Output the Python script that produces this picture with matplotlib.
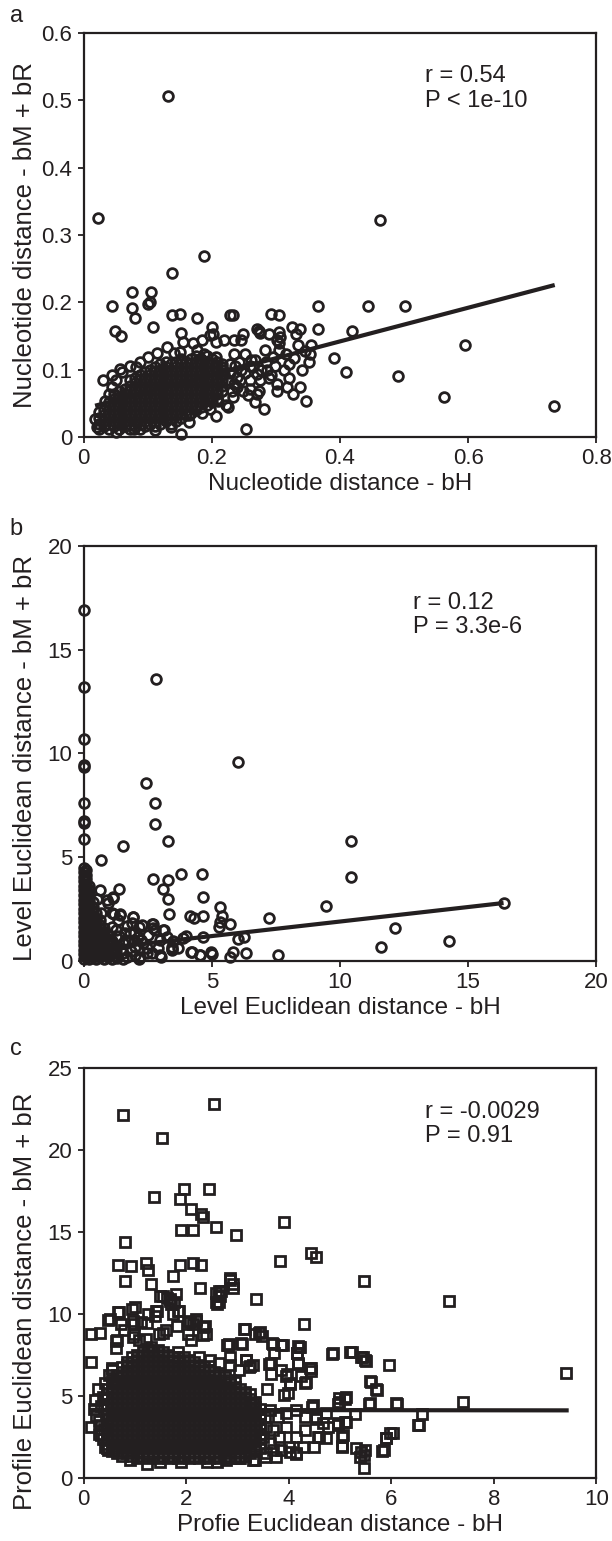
import matplotlib
matplotlib.use("Agg")
import matplotlib.pyplot as plt

plt.rcParams['font.family'] = ['Liberation Sans', 'DejaVu Sans']

INK = '#231f20'

# ---------------- panel a : nucleotide distance ----------------
# isolated / readable rings (x = bH, y = bM + bR)
a_outliers = [
    (0.023, 0.325), (0.132, 0.506), (0.463, 0.323), (0.188, 0.269), (0.138, 0.244),
    (0.075, 0.216), (0.106, 0.216), (0.045, 0.194), (0.075, 0.191), (0.080, 0.177),
    (0.100, 0.197), (0.103, 0.200), (0.138, 0.181), (0.150, 0.183), (0.177, 0.177),
    (0.228, 0.181), (0.233, 0.181), (0.293, 0.183), (0.305, 0.181), (0.366, 0.194),
    (0.443, 0.194), (0.502, 0.194), (0.049, 0.158), (0.059, 0.150), (0.108, 0.163),
    (0.152, 0.154), (0.200, 0.163), (0.202, 0.153), (0.271, 0.161), (0.276, 0.154),
    (0.305, 0.156), (0.301, 0.144), (0.325, 0.164), (0.337, 0.161), (0.365, 0.161),
    (0.419, 0.157), (0.391, 0.118), (0.410, 0.097), (0.490, 0.091), (0.595, 0.136),
    (0.562, 0.059), (0.734, 0.046), (0.347, 0.054), (0.254, 0.012), (0.152, 0.004),
    (0.206, 0.031), (0.281, 0.041), (0.268, 0.052), (0.164, 0.032), (0.115, 0.125),
    (0.030, 0.084), (0.045, 0.092), (0.060, 0.097), (0.018, 0.027),
]
# rings around the edge of the dense cloud
a_scatter = [
    (0.207, 0.141), (0.219, 0.144), (0.245, 0.144), (0.273, 0.158), (0.289, 0.153),
    (0.305, 0.139), (0.316, 0.124), (0.335, 0.136), (0.355, 0.137), (0.354, 0.124),
    (0.352, 0.111), (0.341, 0.099), (0.321, 0.087), (0.338, 0.074), (0.318, 0.074),
    (0.302, 0.079), (0.302, 0.069), (0.289, 0.087), (0.276, 0.084), (0.259, 0.084),
    (0.259, 0.072), (0.274, 0.069), (0.271, 0.064), (0.233, 0.059), (0.222, 0.047),
    (0.225, 0.045), (0.246, 0.099), (0.262, 0.114), (0.283, 0.129), (0.295, 0.119),
    (0.305, 0.129), (0.320, 0.109), (0.277, 0.099), (0.234, 0.124), (0.228, 0.109),
    (0.240, 0.089), (0.249, 0.069), (0.298, 0.106), (0.326, 0.064),
    (0.141, 0.125), (0.151, 0.126), (0.170, 0.139), (0.185, 0.144), (0.198, 0.151),
    (0.155, 0.141), (0.130, 0.134), (0.177, 0.129), (0.188, 0.124), (0.207, 0.119),
    (0.100, 0.119), (0.088, 0.111), (0.073, 0.106), (0.082, 0.104), (0.057, 0.101),
    (0.021, 0.015), (0.033, 0.054), (0.024, 0.037), (0.051, 0.007), (0.079, 0.012),
    (0.112, 0.010), (0.137, 0.015), (0.164, 0.022), (0.185, 0.035), (0.198, 0.042),
    (0.210, 0.054), (0.045, 0.074), (0.039, 0.064), (0.051, 0.084),
    (0.216, 0.104), (0.219, 0.094), (0.225, 0.084), (0.216, 0.069), (0.234, 0.079),
    (0.243, 0.111), (0.252, 0.124), (0.265, 0.104), (0.271, 0.094), (0.286, 0.099),
    (0.249, 0.153), (0.234, 0.144), (0.307, 0.149), (0.332, 0.153),
    (0.228, 0.095), (0.236, 0.105), (0.244, 0.085), (0.252, 0.095), (0.260, 0.105),
    (0.268, 0.115), (0.232, 0.068), (0.240, 0.075), (0.256, 0.062), (0.285, 0.112),
    (0.292, 0.092), (0.312, 0.099), (0.328, 0.118), (0.345, 0.128),
]
# solid black core, estimated column by column (x, [y ...])
a_core = [
    (0.024, [0.012, 0.020, 0.028]),
    (0.032, [0.016, 0.024, 0.032, 0.040]),
    (0.040, [0.012, 0.020, 0.028, 0.036, 0.044, 0.052]),
    (0.048, [0.016, 0.024, 0.032, 0.040, 0.048, 0.056, 0.064]),
    (0.056, [0.012, 0.020, 0.028, 0.036, 0.044, 0.052, 0.060, 0.068]),
    (0.064, [0.016, 0.024, 0.032, 0.040, 0.048, 0.056, 0.064, 0.072]),
    (0.072, [0.012, 0.020, 0.028, 0.036, 0.044, 0.052, 0.060, 0.068, 0.076, 0.084]),
    (0.080, [0.016, 0.024, 0.032, 0.040, 0.048, 0.056, 0.064, 0.072, 0.080, 0.088]),
    (0.088, [0.012, 0.020, 0.028, 0.036, 0.044, 0.052, 0.060, 0.068, 0.076, 0.084, 0.092]),
    (0.096, [0.016, 0.024, 0.032, 0.040, 0.048, 0.056, 0.064, 0.072, 0.080, 0.088, 0.096]),
    (0.104, [0.020, 0.028, 0.036, 0.044, 0.052, 0.060, 0.068, 0.076, 0.084, 0.092, 0.100]),
    (0.112, [0.016, 0.024, 0.032, 0.040, 0.048, 0.056, 0.064, 0.072, 0.080, 0.088, 0.096, 0.104]),
    (0.120, [0.020, 0.028, 0.036, 0.044, 0.052, 0.060, 0.068, 0.076, 0.084, 0.092, 0.100, 0.108]),
    (0.128, [0.024, 0.032, 0.040, 0.048, 0.056, 0.064, 0.072, 0.080, 0.088, 0.096, 0.104, 0.112]),
    (0.136, [0.020, 0.028, 0.036, 0.044, 0.052, 0.060, 0.068, 0.076, 0.084, 0.092, 0.100, 0.108]),
    (0.144, [0.024, 0.032, 0.040, 0.048, 0.056, 0.064, 0.072, 0.080, 0.088, 0.096, 0.104, 0.112]),
    (0.152, [0.028, 0.036, 0.044, 0.052, 0.060, 0.068, 0.076, 0.084, 0.092, 0.100, 0.108, 0.116]),
    (0.160, [0.032, 0.040, 0.048, 0.056, 0.064, 0.072, 0.080, 0.088, 0.096, 0.104, 0.112]),
    (0.168, [0.036, 0.044, 0.052, 0.060, 0.068, 0.076, 0.084, 0.092, 0.100, 0.108, 0.116]),
    (0.176, [0.040, 0.048, 0.056, 0.064, 0.072, 0.080, 0.088, 0.096, 0.104, 0.112, 0.120]),
    (0.184, [0.044, 0.052, 0.060, 0.068, 0.076, 0.084, 0.092, 0.100, 0.108, 0.116]),
    (0.192, [0.048, 0.056, 0.064, 0.072, 0.080, 0.088, 0.096, 0.104, 0.112, 0.120]),
    (0.200, [0.052, 0.060, 0.068, 0.076, 0.084, 0.092, 0.100, 0.108, 0.116]),
    (0.208, [0.056, 0.064, 0.072, 0.080, 0.088, 0.096, 0.104, 0.112]),
    (0.216, [0.068, 0.076, 0.084, 0.092, 0.100, 0.108]),
]
a_fit = (0.042, 0.25)          # intercept, slope
a_fit_range = (0.018, 0.735)
a_stats = ['r = 0.54', 'P < 1e-10']

# ---------------- panel b : level euclidean distance ----------------
b_outliers = [
    (0.0, 16.9), (0.0, 13.2), (0.0, 10.7), (0.0, 9.45), (0.0, 9.37), (0.0, 7.6),
    (0.0, 6.75), (0.0, 6.67), (0.0, 5.88),
    (2.81, 13.6), (6.01, 9.6), (2.42, 8.6), (2.8, 7.6), (2.8, 6.59), (3.3, 5.78),
    (1.55, 5.56), (10.42, 5.78), (0.68, 4.87), (10.42, 4.06), (3.8, 4.18), (4.62, 4.18),
    (2.72, 3.95), (3.3, 3.9), (3.1, 3.47), (1.4, 3.47), (0.64, 3.42), (3.3, 2.99),
    (4.67, 3.07), (1.14, 3.1), (0.52, 2.99), (0.96, 2.78), (5.32, 2.59), (9.47, 2.67),
    (16.38, 2.78), (3.35, 2.25), (4.17, 2.17), (4.32, 2.09), (4.67, 2.17), (5.4, 2.17),
    (7.25, 2.06), (1.93, 2.14), (1.43, 2.25), (1.17, 2.25), (0.68, 2.3), (5.31, 1.9),
    (5.73, 1.77), (5.28, 1.65), (12.15, 1.57), (14.25, 0.96), (11.59, 0.69), (7.6, 0.29),
    (6.34, 0.37), (6.01, 1.04), (6.24, 1.14), (4.67, 1.17), (3.98, 1.2), (3.5, 0.96),
    (3.45, 0.56), (4.2, 0.45), (4.55, 0.29), (4.97, 0.45), (5.02, 0.34), (5.73, 0.18),
    (5.81, 0.45), (3.03, 0.21), (2.46, 0.37), (2.16, 0.08), (1.55, 0.08),
]
b_scatter = [
    (2.69, 1.78), (2.77, 1.49), (3.14, 1.49), (2.16, 1.65), (1.98, 1.33), (1.63, 1.33),
    (2.24, 1.01), (1.6, 1.01), (0.9, 2.94), (1.16, 3.03), (1.1, 2.3), (1.42, 2.2),
    (1.94, 2.12), (1.88, 1.83), (2.27, 1.73), (2.66, 1.78), (2.72, 1.59), (3.11, 1.49),
    (1.81, 1.35), (2.14, 1.16), (2.53, 1.25), (2.98, 1.01), (1.55, 0.87), (2.01, 0.67),
    (2.46, 0.63), (2.92, 0.63), (3.44, 0.53), (1.55, 0.39), (2.2, 0.19), (2.98, 0.29),
    (3.44, 0.67), (3.89, 1.1), (4.22, 0.43), (4.54, 0.29), (1.1, 1.65), (1.36, 1.98),
    (1.03, 1.01), (1.16, 0.53), (1.75, 0.92), (2.33, 0.87), (2.66, 0.39), (3.24, 1.16),
    (3.7, 0.63), (1.3, 0.15), (1.45, 0.6), (1.7, 0.2), (1.85, 0.5), (1.4, 1.2),
    (1.25, 1.5), (1.7, 1.7), (2.0, 0.3), (1.95, 1.0),
]
b_core = [
    (0.00, [0.1, 0.32, 0.54, 0.76, 0.98, 1.2, 1.42, 1.64, 1.86, 2.08, 2.3, 2.52, 2.74,
            2.96, 3.18, 3.4, 3.62, 3.84, 4.06, 4.28, 4.5]),
    (0.08, [0.2, 0.42, 0.64, 0.86, 1.08, 1.3, 1.52, 1.74, 1.96, 2.18, 2.4, 2.62, 2.84,
            3.06, 3.28, 3.5, 3.72, 3.94, 4.16, 4.38]),
    (0.20, [0.1, 0.32, 0.54, 0.76, 0.98, 1.2, 1.42, 1.64, 1.86, 2.08, 2.3, 2.52, 2.74,
            2.96, 3.18, 3.4, 3.62]),
    (0.35, [0.2, 0.42, 0.64, 0.86, 1.08, 1.3, 1.52, 1.74, 1.96, 2.18, 2.4, 2.62, 2.84]),
    (0.50, [0.1, 0.32, 0.54, 0.76, 0.98, 1.2, 1.42, 1.64, 1.86, 2.08, 2.3]),
    (0.65, [0.2, 0.42, 0.64, 0.86, 1.08, 1.3, 1.52, 1.74, 1.96]),
    (0.80, [0.1, 0.32, 0.54, 0.76, 0.98, 1.2, 1.42, 1.6]),
    (0.95, [0.2, 0.42, 0.64, 0.86, 1.08, 1.3]),
    (1.10, [0.1, 0.32, 0.54, 0.76, 0.98]),
    (1.25, [0.2, 0.42, 0.64]),
]
b_fit = (0.5, 0.14)
b_fit_range = (0.0, 16.38)
b_stats = ['r = 0.12', 'P = 3.3e-6']

# ---------------- panel c : profile euclidean distance ----------------
c_outliers = [
    (0.76, 22.1), (2.55, 22.8), (1.53, 20.7), (2.45, 17.6), (1.96, 17.6), (1.38, 17.1),
    (1.88, 17.0), (2.09, 16.4), (2.3, 16.1), (2.33, 15.9), (2.58, 15.3), (1.9, 15.1),
    (2.13, 15.1), (2.97, 14.8), (3.9, 15.6), (0.81, 14.4), (4.44, 13.7), (4.54, 13.5),
    (3.83, 13.2), (0.68, 13.0), (0.93, 12.9), (1.21, 13.1), (1.25, 12.7), (1.88, 13.0),
    (2.13, 13.1), (2.3, 13.0), (0.81, 12.0), (1.75, 12.3), (2.85, 12.1), (2.91, 11.6),
    (2.28, 11.6), (1.31, 11.8), (2.64, 11.4), (2.66, 11.1), (2.6, 10.6), (3.37, 10.9),
    (5.46, 12.0), (7.13, 10.8), (1.5, 11.1), (1.63, 11.0), (1.8, 11.2), (1.69, 10.8),
    (1.71, 10.6), (0.47, 9.65), (0.68, 10.1), (0.95, 10.3), (1.0, 10.4), (1.39, 9.9),
    (1.44, 10.2), (1.75, 10.0), (1.86, 10.2), (0.14, 8.8), (0.32, 8.86), (0.14, 7.1),
    (0.73, 9.4), (0.78, 9.0), (0.99, 9.4), (1.23, 9.45), (1.82, 9.25), (2.07, 9.5),
    (2.2, 9.6), (2.13, 9.37), (2.36, 9.25), (2.32, 8.74), (3.12, 9.1), (4.3, 9.4),
    (3.42, 8.84), (3.48, 8.64), (0.97, 8.6), (1.55, 8.84), (0.64, 8.35), (0.64, 7.9),
    (2.83, 8.15), (3.09, 8.19), (3.69, 8.19), (3.88, 8.09), (4.22, 7.99), (4.85, 7.54),
    (5.24, 7.68), (5.44, 7.38), (5.5, 7.13), (5.95, 6.87), (9.4, 6.42), (7.39, 4.63),
    (6.11, 4.53), (5.61, 5.85), (5.72, 5.35), (5.57, 4.53), (5.1, 4.84), (4.98, 4.63),
    (6.59, 3.92), (6.55, 3.21), (5.98, 2.76), (5.9, 2.44), (5.81, 1.65), (5.48, 1.69),
    (5.46, 1.38), (5.47, 0.61), (5.04, 1.93), (5.04, 2.5), (4.97, 3.21), (5.1, 3.41),
    (5.29, 3.92), (4.16, 7.62), (4.18, 8.03), (4.43, 6.71), (4.18, 6.97), (3.96, 6.36),
    (4.03, 5.75), (3.9, 5.04), (4.45, 4.33), (4.53, 3.62), (4.34, 5.85), (3.61, 6.97),
    (3.23, 6.77), (3.16, 7.17), (3.65, 6.36), (3.57, 5.45), (3.31, 4.53), (4.6, 2.5),
    (4.76, 3.11), (4.49, 1.89), (4.15, 1.48), (4.0, 1.89), (3.69, 1.69), (3.54, 1.28),
    (3.35, 1.08), (1.23, 0.83),
]
c_scatter = [
    (0.15, 3.1), (0.33, 3.2), (0.28, 5.4), (0.38, 4.96), (0.23, 4.76), (0.34, 2.6),
    (0.41, 1.9), (0.47, 1.7), (0.6, 1.7), (0.56, 6.7), (0.51, 9.7), (0.7, 10.1),
    (0.65, 8.4), (0.96, 9.6), (1.12, 9.5), (1.25, 10.0), (1.42, 10.2), (1.55, 11.1),
    (1.68, 10.9), (1.77, 10.7), (1.84, 10.2), (2.03, 9.6), (2.2, 9.7), (2.33, 9.2),
    (2.03, 8.8), (2.1, 8.4), (2.39, 8.8), (1.48, 8.8), (1.61, 9.0), (1.22, 8.5),
    (1.09, 8.4), (0.99, 8.8), (1.32, 8.0), (1.84, 7.7), (2.26, 7.4), (2.46, 7.2),
    (2.65, 7.0), (2.85, 6.9), (3.04, 6.6), (3.24, 6.8), (2.81, 8.1), (3.07, 8.2),
    (3.14, 9.1), (2.59, 10.7), (2.65, 11.1), (2.59, 11.3), (2.85, 12.2), (2.91, 11.8),
    (3.35, 8.8), (2.68, 11.4), (2.65, 10.7), (3.44, 8.9), (2.79, 8.1), (3.68, 8.2),
    (3.85, 8.1), (3.72, 7.6), (4.21, 8.0), (4.16, 7.6), (4.18, 7.0), (2.85, 7.4),
    (3.17, 7.2), (3.3, 6.9), (3.66, 7.0), (3.85, 6.6), (3.95, 6.2), (4.02, 5.8),
    (3.98, 5.2), (4.24, 6.2), (4.31, 5.8), (4.41, 6.7), (4.44, 6.5), (4.86, 7.6),
    (5.2, 7.7), (5.41, 7.4), (5.49, 7.2), (5.59, 5.9), (5.7, 5.4), (5.58, 4.55),
    (6.1, 4.55), (4.47, 4.45), (4.99, 4.86), (5.11, 4.96), (4.96, 4.5), (4.96, 3.33),
    (5.12, 3.43), (5.05, 2.62), (5.04, 1.91), (5.32, 1.81), (5.41, 1.6), (5.39, 1.3),
    (5.85, 1.71), (5.9, 2.42), (6.03, 2.77), (6.52, 3.23),
    (3.63, 4.15), (3.79, 3.74), (3.95, 3.94), (4.15, 4.15), (4.31, 3.74), (4.54, 3.74),
    (4.73, 3.94), (4.66, 3.33), (4.57, 2.52), (4.73, 2.42), (4.31, 2.93), (4.15, 2.52),
    (3.95, 3.13), (3.82, 2.52), (3.69, 2.93), (3.63, 2.11), (3.85, 1.71), (4.02, 1.6),
    (4.15, 1.5), (4.27, 1.91), (3.76, 1.3), (3.56, 1.5), (3.3, 1.1), (3.04, 1.2),
    (2.78, 1.1), (3.53, 3.74), (3.56, 3.13), (3.5, 2.52),
    (0.2, 4.2), (0.25, 3.8), (0.3, 3.5), (0.35, 4.4), (0.4, 3.0), (0.38, 2.4),
    (0.3, 2.7), (0.42, 5.8), (0.5, 6.3), (0.55, 6.6),
    (0.9, 1.1), (1.5, 0.95), (1.9, 1.0), (2.4, 0.95), (2.6, 1.0),
]
c_core = [
    (0.45, [1.8, 2.1, 2.4, 2.7, 3.0, 3.3, 3.6, 3.9, 4.2, 4.5, 4.8, 5.1, 5.4]),
    (0.55, [1.65, 1.95, 2.25, 2.55, 2.85, 3.15, 3.45, 3.75, 4.05, 4.35, 4.65, 4.95, 5.25,
            5.55, 5.85]),
    (0.65, [1.5, 1.8, 2.1, 2.4, 2.7, 3.0, 3.3, 3.6, 3.9, 4.2, 4.5, 4.8, 5.1, 5.4, 5.7,
            6.0, 6.3]),
    (0.75, [1.35, 1.65, 1.95, 2.25, 2.55, 2.85, 3.15, 3.45, 3.75, 4.05, 4.35, 4.65, 4.95,
            5.25, 5.55, 5.85, 6.15, 6.45, 6.75]),
    (0.85, [1.5, 1.8, 2.1, 2.4, 2.7, 3.0, 3.3, 3.6, 3.9, 4.2, 4.5, 4.8, 5.1, 5.4, 5.7,
            6.0, 6.3, 6.6, 6.9, 7.1]),
    (0.95, [1.35, 1.65, 1.95, 2.25, 2.55, 2.85, 3.15, 3.45, 3.75, 4.05, 4.35, 4.65, 4.95,
            5.25, 5.55, 5.85, 6.15, 6.45, 6.75, 7.05, 7.35]),
    (1.05, [1.2, 1.5, 1.8, 2.1, 2.4, 2.7, 3.0, 3.3, 3.6, 3.9, 4.2, 4.5, 4.8, 5.1, 5.4,
            5.7, 6.0, 6.3, 6.6, 6.9, 7.2, 7.5]),
    (1.15, [1.35, 1.65, 1.95, 2.25, 2.55, 2.85, 3.15, 3.45, 3.75, 4.05, 4.35, 4.65, 4.95,
            5.25, 5.55, 5.85, 6.15, 6.45, 6.75, 7.05, 7.35, 7.65]),
    (1.25, [1.2, 1.5, 1.8, 2.1, 2.4, 2.7, 3.0, 3.3, 3.6, 3.9, 4.2, 4.5, 4.8, 5.1, 5.4,
            5.7, 6.0, 6.3, 6.6, 6.9, 7.2, 7.5, 7.8]),
    (1.35, [1.35, 1.65, 1.95, 2.25, 2.55, 2.85, 3.15, 3.45, 3.75, 4.05, 4.35, 4.65, 4.95,
            5.25, 5.55, 5.85, 6.15, 6.45, 6.75, 7.05, 7.35, 7.65]),
    (1.45, [1.2, 1.5, 1.8, 2.1, 2.4, 2.7, 3.0, 3.3, 3.6, 3.9, 4.2, 4.5, 4.8, 5.1, 5.4,
            5.7, 6.0, 6.3, 6.6, 6.9, 7.2, 7.5, 7.8]),
    (1.55, [1.35, 1.65, 1.95, 2.25, 2.55, 2.85, 3.15, 3.45, 3.75, 4.05, 4.35, 4.65, 4.95,
            5.25, 5.55, 5.85, 6.15, 6.45, 6.75, 7.05, 7.35, 7.65]),
    (1.65, [1.2, 1.5, 1.8, 2.1, 2.4, 2.7, 3.0, 3.3, 3.6, 3.9, 4.2, 4.5, 4.8, 5.1, 5.4,
            5.7, 6.0, 6.3, 6.6, 6.9, 7.2, 7.5]),
    (1.75, [1.35, 1.65, 1.95, 2.25, 2.55, 2.85, 3.15, 3.45, 3.75, 4.05, 4.35, 4.65, 4.95,
            5.25, 5.55, 5.85, 6.15, 6.45, 6.75, 7.05, 7.35]),
    (1.85, [1.2, 1.5, 1.8, 2.1, 2.4, 2.7, 3.0, 3.3, 3.6, 3.9, 4.2, 4.5, 4.8, 5.1, 5.4,
            5.7, 6.0, 6.3, 6.6, 6.9, 7.2, 7.4]),
    (1.95, [1.35, 1.65, 1.95, 2.25, 2.55, 2.85, 3.15, 3.45, 3.75, 4.05, 4.35, 4.65, 4.95,
            5.25, 5.55, 5.85, 6.15, 6.45, 6.75, 7.05, 7.35]),
    (2.05, [1.2, 1.5, 1.8, 2.1, 2.4, 2.7, 3.0, 3.3, 3.6, 3.9, 4.2, 4.5, 4.8, 5.1, 5.4,
            5.7, 6.0, 6.3, 6.6, 6.9, 7.2]),
    (2.15, [1.35, 1.65, 1.95, 2.25, 2.55, 2.85, 3.15, 3.45, 3.75, 4.05, 4.35, 4.65, 4.95,
            5.25, 5.55, 5.85, 6.15, 6.45, 6.75, 7.05]),
    (2.25, [1.2, 1.5, 1.8, 2.1, 2.4, 2.7, 3.0, 3.3, 3.6, 3.9, 4.2, 4.5, 4.8, 5.1, 5.4,
            5.7, 6.0, 6.3, 6.6, 6.9]),
    (2.35, [1.35, 1.65, 1.95, 2.25, 2.55, 2.85, 3.15, 3.45, 3.75, 4.05, 4.35, 4.65, 4.95,
            5.25, 5.55, 5.85, 6.15, 6.45, 6.75]),
    (2.45, [1.2, 1.5, 1.8, 2.1, 2.4, 2.7, 3.0, 3.3, 3.6, 3.9, 4.2, 4.5, 4.8, 5.1, 5.4,
            5.7, 6.0, 6.3, 6.6, 6.8]),
    (2.55, [1.35, 1.65, 1.95, 2.25, 2.55, 2.85, 3.15, 3.45, 3.75, 4.05, 4.35, 4.65, 4.95,
            5.25, 5.55, 5.85, 6.15, 6.45]),
    (2.65, [1.2, 1.5, 1.8, 2.1, 2.4, 2.7, 3.0, 3.3, 3.6, 3.9, 4.2, 4.5, 4.8, 5.1, 5.4,
            5.7, 6.0, 6.3]),
    (2.75, [1.35, 1.65, 1.95, 2.25, 2.55, 2.85, 3.15, 3.45, 3.75, 4.05, 4.35, 4.65, 4.95,
            5.25, 5.55, 5.85, 6.15]),
    (2.85, [1.2, 1.5, 1.8, 2.1, 2.4, 2.7, 3.0, 3.3, 3.6, 3.9, 4.2, 4.5, 4.8, 5.1, 5.4,
            5.7, 6.0]),
    (2.95, [1.35, 1.65, 1.95, 2.25, 2.55, 2.85, 3.15, 3.45, 3.75, 4.05, 4.35, 4.65, 4.95,
            5.25, 5.55, 5.85]),
    (3.05, [1.2, 1.5, 1.8, 2.1, 2.4, 2.7, 3.0, 3.3, 3.6, 3.9, 4.2, 4.5, 4.8, 5.1, 5.4]),
    (3.15, [1.35, 1.65, 1.95, 2.25, 2.55, 2.85, 3.15, 3.45, 3.75, 4.05, 4.35, 4.65, 4.95,
            5.25]),
    (3.25, [1.5, 1.8, 2.1, 2.4, 2.7, 3.0, 3.3, 3.6, 3.9, 4.2, 4.5, 4.8, 5.1]),
    (3.35, [1.65, 1.95, 2.25, 2.55, 2.85, 3.15, 3.45, 3.75, 4.05, 4.35, 4.65]),
    (3.45, [1.8, 2.1, 2.4, 2.7, 3.0, 3.3, 3.6, 3.9, 4.2]),
]
c_fit = (4.15, -0.003)
c_fit_range = (0.11, 9.46)
c_stats = ['r = -0.0029', 'P = 0.91']


def collect(core, *groups):
    xs, ys = [], []
    for x, col in core:
        for y in col:
            xs.append(x)
            ys.append(y)
    for g in groups:
        for x, y in g:
            xs.append(x)
            ys.append(y)
    return xs, ys


def panel(ax, core, groups, marker, ms, fit, fit_range, stats, stat_pos,
          xlim, ylim, xticks, yticks, xlabel, ylabel, ylab_y=0.5):
    xs, ys = collect(core, *groups)
    ax.plot(xs, ys, linestyle='none', marker=marker, ms=ms, mfc='none',
            mec=INK, mew=2.0, clip_on=False, zorder=3)
    b0, b1 = fit
    ax.plot(fit_range, [b0 + b1 * fit_range[0], b0 + b1 * fit_range[1]],
            color=INK, lw=3.0, solid_capstyle='butt', zorder=4)
    ax.set_xlim(*xlim)
    ax.set_ylim(*ylim)
    ax.set_xticks(xticks)
    ax.set_yticks(yticks)
    ax.set_xticklabels(['%g' % t for t in xticks])
    ax.set_yticklabels(['%g' % t for t in yticks])
    for s in ax.spines.values():
        s.set_linewidth(1.6)
        s.set_color(INK)
    ax.tick_params(direction='out', length=4, width=1.3, color=INK,
                   labelsize=16, labelcolor=INK, pad=4)
    ax.set_xlabel(xlabel, fontsize=17.5, color=INK)
    ax.set_ylabel(ylabel, fontsize=18.5, color=INK)
    ax.xaxis.set_label_coords(0.5, -0.088)
    ax.yaxis.set_label_coords(-0.09, ylab_y)
    ax.text(stat_pos[0], stat_pos[1], stats[0] + '\n' + stats[1],
            fontsize=17, color=INK, ha='left', va='top', linespacing=1.15)


fig = plt.figure(figsize=(6.12, 15.41), dpi=100)

ax_a = fig.add_axes([0.1365, 0.7164, 0.838, 0.2622])
panel(ax_a, a_core, [a_outliers, a_scatter], 'o', 7.0, a_fit, a_fit_range, a_stats,
      (0.533, 0.552), (0, 0.8), (0, 0.6), [0, 0.2, 0.4, 0.6, 0.8],
      [0, 0.1, 0.2, 0.3, 0.4, 0.5, 0.6],
      'Nucleotide distance - bH', 'Nucleotide distance - bM + bR')

ax_b = fig.add_axes([0.1365, 0.3764, 0.838, 0.2693])
panel(ax_b, b_core, [b_outliers, b_scatter], 'o', 7.0, b_fit, b_fit_range, b_stats,
      (12.85, 17.8), (0, 20), (0, 20), [0, 5, 10, 15, 20], [0, 5, 10, 15, 20],
      'Level Euclidean distance - bH', 'Level Euclidean distance - bM + bR', 0.49)

ax_c = fig.add_axes([0.1365, 0.0409, 0.838, 0.2661])
panel(ax_c, c_core, [c_outliers, c_scatter], 's', 6.6, c_fit, c_fit_range, c_stats,
      (6.65, 23.0), (0, 10), (0, 25), [0, 2, 4, 6, 8, 10], [0, 5, 10, 15, 20, 25],
      'Profie Euclidean distance - bH', 'Profile Euclidean distance - bM + bR', 0.43)

for letter, ypos in [('a', 0.9857), ('b', 0.6528), ('c', 0.3154)]:
    fig.text(0.016, ypos, letter, fontsize=17, color=INK, va='baseline')

fig.savefig('out.png', dpi=100)
